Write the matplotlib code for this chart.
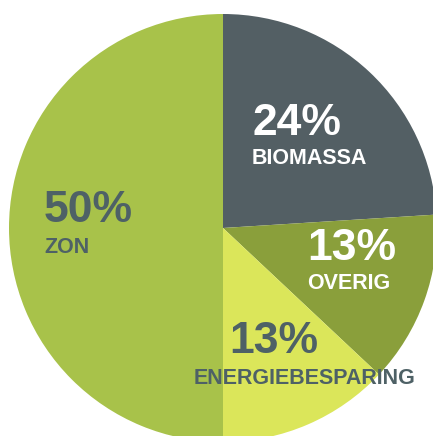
import matplotlib.pyplot as plt

# shares of the energy mix, clockwise from the top
categories = ['BIOMASSA', 'OVERIG', 'ENERGIEBESPARING', 'ZON']
shares = [24, 13, 13, 50]

colors = ['#535f64', '#8a9f3b', '#dbe65a', '#a8c24a']
text_colors = ['white', 'white', '#4e6166', '#4e6166']
# label anchors in pixels (x left, baseline of number, baseline of name), from top-left
num_pos = [(252, 135), (307, 260), (229, 353), (44, 222)]
name_pos = [(252, 164), (307, 289), (194, 384), (44, 253)]

W, H = 433, 436
fig = plt.figure(figsize=(W / 100, H / 100), dpi=100)
ax = fig.add_axes([0, 0, 1, 1])

ax.pie(shares, colors=colors, startangle=90, counterclock=False,
       center=(223, H - 228), radius=214, frame=True,
       wedgeprops=dict(linewidth=0))
ax.set_xlim(0, W)
ax.set_ylim(0, H)
ax.set_aspect('equal')
ax.axis('off')

font = ['Liberation Sans', 'DejaVu Sans']
for i, cat in enumerate(categories):
    x, y = num_pos[i]
    ax.text(x, H - y, f'{shares[i]}%', fontsize=32, fontweight='bold',
            family=font, color=text_colors[i], ha='left', va='baseline')
    x, y = name_pos[i]
    ax.text(x, H - y, cat, fontsize=15.5, fontweight='bold',
            family=font, color=text_colors[i], ha='left', va='baseline')

fig.savefig('out.png', dpi=100)
